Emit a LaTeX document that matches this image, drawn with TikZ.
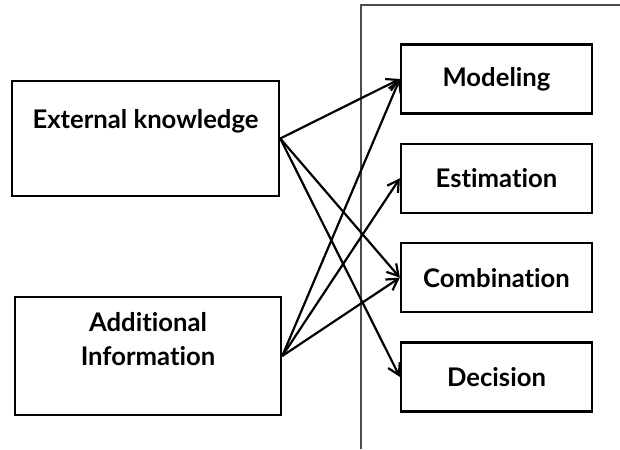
\documentclass[tikz,border=0pt]{standalone}
\usepackage{fontspec}
\setmainfont{Lato}[Ligatures=NoCommon]
\usetikzlibrary{arrows.meta,positioning}
\begin{document}
\begin{tikzpicture}[x=.2mm,y=-.2mm,>={Straight Barb[length=2.2mm,width=2.6mm]},
    srcbox/.style={draw,line width=1.4pt,minimum width=5.34cm,minimum height=2.3cm},
    stagebox/.style={draw,line width=1.3pt,minimum width=3.82cm,minimum height=1.38cm,
      font=\fontsize{14.6}{17}\selectfont\bfseries},
    lbl/.style={align=center,font=\fontsize{14.6}{19.3}\selectfont\bfseries}]
  \useasboundingbox (0,0) rectangle (620,449);
  % frame
  \draw[line width=.9pt,black!70] (361,449) -- (361,5) -- (620,5);
  % sources
  \node[srcbox] (ext) at (145.5,138.5) {};
  \node[srcbox,minimum width=5.32cm,minimum height=2.36cm] (add) at (148,356) {};
  \node[lbl] at ([yshift=-.84cm]ext.north) {External knowledge};
  \node[lbl] at ([yshift=-.86cm]add.north) {Additional\\Information};
  % stages
  \foreach \n/\t [count=\i] in {mod/Modeling,est/Estimation,com/Combination,dec/Decision}
    \node[stagebox] (\n) at (496.5,{79+99.3*(\i-1)}) {\t};
  % links
  \foreach \n in {mod,com,dec} \draw[->,line width=1.25pt] (ext.east) -- (\n.west);
  \foreach \n in {mod,est,com} \draw[->,line width=1.25pt] (add.east) -- (\n.west);
\end{tikzpicture}
\end{document}
